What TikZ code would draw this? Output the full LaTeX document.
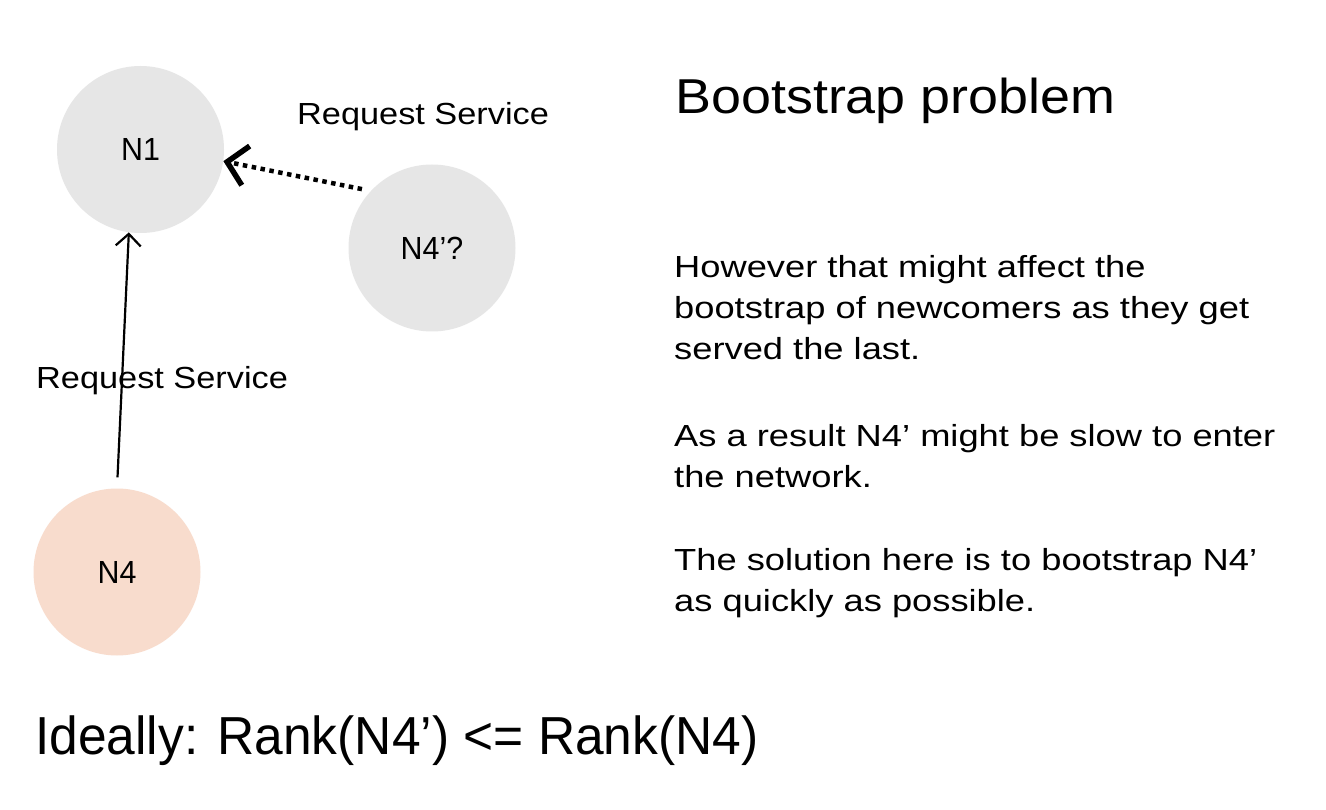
\documentclass[tikz,border=0pt]{standalone}
\usepackage{fontspec}
\setmainfont{Liberation Sans}
\newfontfamily\bodyfont[FakeStretch=1.19]{Liberation Sans}
\newfontfamily\titlefont[FakeStretch=1.10]{Liberation Sans}
\newfontfamily\edgefont[FakeStretch=1.125]{Liberation Sans}
\newfontfamily\peerfont[FakeStretch=0.95]{Liberation Sans}
\newfontfamily\rankfont[FakeStretch=0.963]{Liberation Sans}
\usetikzlibrary{arrows.meta,calc}
\definecolor{peergray}{HTML}{E6E6E6}
\definecolor{peerpeach}{HTML}{F8DCCD}

\begin{document}
\begin{tikzpicture}[x=1pt,y=-1pt,
  peer/.style={circle,draw=none,minimum size=167pt,inner sep=0pt,
    font=\peerfont\fontsize{32}{38}\selectfont},
  bodyline/.style={anchor=base west,inner sep=0pt,
    font=\bodyfont\fontsize{30.5}{41}\selectfont},
  edgelabel/.style={anchor=base west,inner sep=0pt,
    font=\edgefont\fontsize{30.5}{36}\selectfont},
  request/.style={line width=2.2pt,-{Straight Barb[length=12pt,width=25pt]}},
  pending/.style={line width=4.5pt,dash pattern=on 4.5pt off 4.5pt,
    -{Straight Barb[length=19pt,width=40pt,line width=5.5pt]}}]

\useasboundingbox (0,0) rectangle (1326,810);
\fill[white] (0,0) rectangle (1326,810);

% peers
\node[peer,fill=peergray]  (N1)  at (140.5,149.5) {N1};
\node[peer,fill=peergray]  (N4q) at (432,248)     {N4’?};
\node[peer,fill=peerpeach] (N4)  at (117,572)     {N4};

% requests
\draw[request,shorten <=11pt] (N4.north) -- (N1.262);
\draw[pending,shorten <=9pt] (N4q.137.6) -- (N1.-8.5);

\node[edgelabel] (reqtop)  at (297,124.5) {Request Service};
\node[edgelabel] (reqleft) at (36,388.5) {Request Service};

% explanation
\node[anchor=base west,inner sep=0pt,font=\titlefont\fontsize{49}{58}\selectfont]
  (title) at (675,114) {Bootstrap problem};

\node[bodyline] (p1a) at (674,278) {However that might affect the};
\node[bodyline] (p1b) at (674,319) {bootstrap of newcomers as they get};
\node[bodyline] (p1c) at (674,360) {served the last.};

\node[bodyline] (p2a) at (674,446.5) {As a result N4’ might be slow to enter};
\node[bodyline] (p2b) at (674,487.5) {the network.};

\node[bodyline] (p3a) at (674,570) {The solution here is to bootstrap N4’};
\node[bodyline] (p3b) at (674,611) {as quickly as possible.};

\node[anchor=base west,inner sep=0pt,font=\rankfont\fontsize{53.5}{64}\selectfont]
  (rank) at (35,754) {Ideally: Rank(N4’) <= Rank(N4)};
\end{tikzpicture}
\end{document}
